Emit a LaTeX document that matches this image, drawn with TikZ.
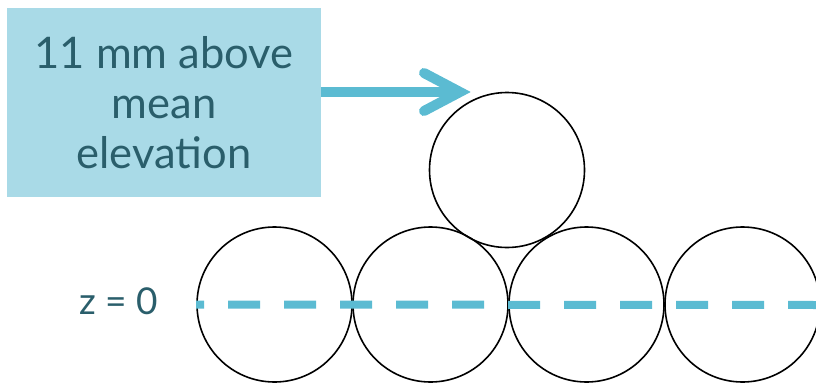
\documentclass[tikz,border=0pt]{standalone}
\usepackage{fontspec}
\setmainfont{Lato}
\definecolor{boxfill}{HTML}{A9DAE7}
\definecolor{txt}{HTML}{2A5E6B}
\definecolor{accent}{HTML}{5BBBD2}
\begin{document}
\begin{tikzpicture}[x=1pt,y=-1pt,
  labelbox/.style={fill=boxfill,text=txt,minimum width=314pt,minimum height=189pt,
    inner sep=0pt,align=center,font=\fontsize{43.5}{50}\selectfont},
  ball/.style={circle,draw=black,line width=1.6pt,minimum size=155pt,inner sep=0pt},
  zline/.style={accent,line width=8pt,dash pattern=on 32pt off 24pt,dash phase=24pt},
  arrowline/.style={accent,line width=10pt},
  arrowhead/.style={accent,line width=10pt,line cap=round,line join=miter},
  zlabel/.style={text=txt,inner sep=0pt,font=\fontsize{37}{40}\selectfont}]
\useasboundingbox (0,0) rectangle (816,383);
\node[labelbox] (box) at (164,102.5) {11 mm above\\mean\\elevation};
\coordinate (tip) at (460,92);
\draw[arrowline] (box.east |- tip) -- (tip);
\draw[arrowhead] ([shift={(-36,-19)}]tip) -- (tip) -- ([shift={(-36,19)}]tip);
\node[ball] (c1) at (274.5,304.5) {};
\node[ball] (c2) at (430.5,304.5) {};
\node[ball] (c3) at (586.5,304.5) {};
\node[ball] (c4) at (742.5,304.5) {};
\node[ball] (t) at (507,170) {};
\coordinate (zr) at (820,305);
\draw[zline] (c1.west) -- (zr);
\node[zlabel] (z) at (118.5,301) {z = 0};
\end{tikzpicture}
\end{document}
